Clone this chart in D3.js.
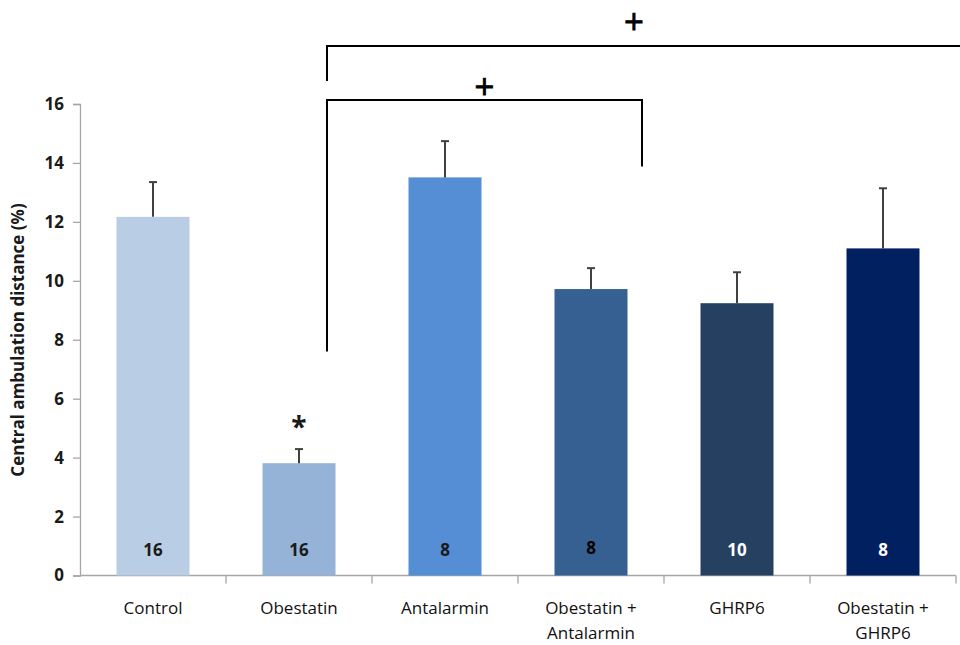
<!DOCTYPE html>
<html>
<head>
<meta charset="utf-8">
<script src="https://cdn.jsdelivr.net/npm/d3@7"></script>
<style>
  html, body { margin: 0; padding: 0; background: #fff; }
  svg { display: block; font-family: "Open Sans", Lato, sans-serif; }
</style>
</head>
<body>
<svg id="chart" width="960" height="645"></svg>
<script>
// Group means, SEM tops and group sizes
const categories = ["Control", "Obestatin", "Antalarmin", "Obestatin + Antalarmin", "GHRP6", "Obestatin + GHRP6"];
const labelLines = [["Control"], ["Obestatin"], ["Antalarmin"], ["Obestatin +", "Antalarmin"], ["GHRP6"], ["Obestatin +", "GHRP6"]];
const means = [12.17, 3.81, 13.51, 9.72, 9.24, 11.10];
const errorTops = [13.35, 4.29, 14.74, 10.43, 10.29, 13.14];
const groupN = ["16", "16", "8", "8", "10", "8"];
const barColors = ["#B9CDE5", "#95B3D7", "#558ED5", "#376092", "#254061", "#002060"];
const nColors = ["#1a1a1a", "#1a1a1a", "#1a1a1a", "#000000", "#ffffff", "#ffffff"];
const yTicks = [0, 2, 4, 6, 8, 10, 12, 14, 16];

const FONT = "'Open Sans', Lato, sans-serif";
const svg = d3.select("#chart");
const plot = { left: 80, right: 956, top: 104, bottom: 575.5 };

const x = d3.scaleBand().domain(categories).range([plot.left, plot.right]).paddingInner(0).paddingOuter(0);
const y = d3.scaleLinear().domain([0, 16]).range([plot.bottom, plot.top]);
const bw = x.bandwidth() * 0.5;
const cx = c => x(c) + x.bandwidth() / 2;

// Y axis
const yAxis = d3.axisLeft(y).tickValues(yTicks).tickSize(7).tickPadding(9).tickFormat(d3.format("d"));
const gy = svg.append("g").attr("transform", `translate(${plot.left},0)`).call(yAxis);
gy.select(".domain").attr("stroke", "#A6A6A6").attr("stroke-width", 1.3);
gy.selectAll(".tick line").attr("stroke", "#A6A6A6").attr("stroke-width", 1.3);
gy.selectAll(".tick text").attr("font-size", 17).attr("font-weight", "bold").attr("fill", "#1a1a1a")
  .attr("font-family", FONT);

// X axis with separators between categories
const gx = svg.append("g").attr("transform", `translate(0,${plot.bottom})`);
gx.append("line").attr("x1", plot.left).attr("x2", plot.right).attr("y1", 0).attr("y2", 0)
  .attr("stroke", "#A6A6A6").attr("stroke-width", 1.3);
gx.selectAll("line.sep").data(categories).enter().append("line").attr("class", "sep")
  .attr("x1", d => x(d) + x.bandwidth()).attr("x2", d => x(d) + x.bandwidth())
  .attr("y1", 0).attr("y2", 8).attr("stroke", "#A6A6A6").attr("stroke-width", 1.3);

// Category labels
const lab = svg.append("g");
categories.forEach((c, i) => {
  const t = lab.append("text").attr("x", cx(c)).attr("y", 614)
    .attr("text-anchor", "middle").attr("font-size", 17).attr("fill", "#111");
  labelLines[i].forEach((ln, j) => {
    t.append("tspan").attr("x", cx(c)).attr("dy", j === 0 ? 0 : 25).text(ln);
  });
});

// Y axis title
svg.append("text").attr("transform", `translate(24,340) rotate(-90)`)
  .attr("text-anchor", "middle").attr("font-size", 17).attr("font-weight", "bold").attr("fill", "#1a1a1a")
  .text("Central ambulation distance (%)");

// Bars
svg.append("g").selectAll("rect").data(categories).enter().append("rect")
  .attr("x", d => cx(d) - bw / 2).attr("width", bw)
  .attr("y", (d, i) => y(means[i])).attr("height", (d, i) => y(0) - y(means[i]))
  .attr("fill", (d, i) => barColors[i]);

// Error bars (upper only)
const eb = svg.append("g").attr("stroke", "#404040").attr("stroke-width", 2);
categories.forEach((c, i) => {
  eb.append("line").attr("x1", cx(c)).attr("x2", cx(c)).attr("y1", y(means[i])).attr("y2", y(errorTops[i]));
  eb.append("line").attr("x1", cx(c) - 4).attr("x2", cx(c) + 4).attr("y1", y(errorTops[i])).attr("y2", y(errorTops[i]));
});

// Group sizes inside bars
svg.append("g").selectAll("text").data(categories).enter().append("text")
  .attr("x", d => cx(d)).attr("y", (d, i) => i === 3 ? 554 : 556)
  .attr("text-anchor", "middle").attr("font-size", 17).attr("font-weight", "bold")
  .attr("fill", (d, i) => nColors[i]).text((d, i) => groupN[i]);

// Significance vs control
svg.append("text").attr("x", cx("Obestatin")).attr("y", 437).attr("text-anchor", "middle")
  .attr("font-size", 28).attr("font-weight", "bold").attr("fill", "#1a1a1a").text("*");

// Comparison brackets
const bx0 = cx("Obestatin") + 28;
const innerRight = cx("Obestatin + Antalarmin") + 51;
const br = svg.append("g").attr("fill", "none").attr("stroke", "#000").attr("stroke-width", 2);
br.append("path").attr("d", `M${bx0},${y(7.6)} V100 H${innerRight} V${y(13.88)}`);
br.append("path").attr("d", `M${bx0},81 V46 H962`);

const plusStyle = s => s.attr("text-anchor", "middle")
  .attr("font-family", "'DejaVu Sans', sans-serif").attr("font-size", 26)
  .attr("fill", "#000").attr("stroke", "#000").attr("stroke-width", 0.9).text("+");
svg.append("text").attr("x", (bx0 + innerRight) / 2).attr("y", 94.5).call(plusStyle);
svg.append("text").attr("x", 634).attr("y", 29.5).call(plusStyle);
</script>
</body>
</html>
